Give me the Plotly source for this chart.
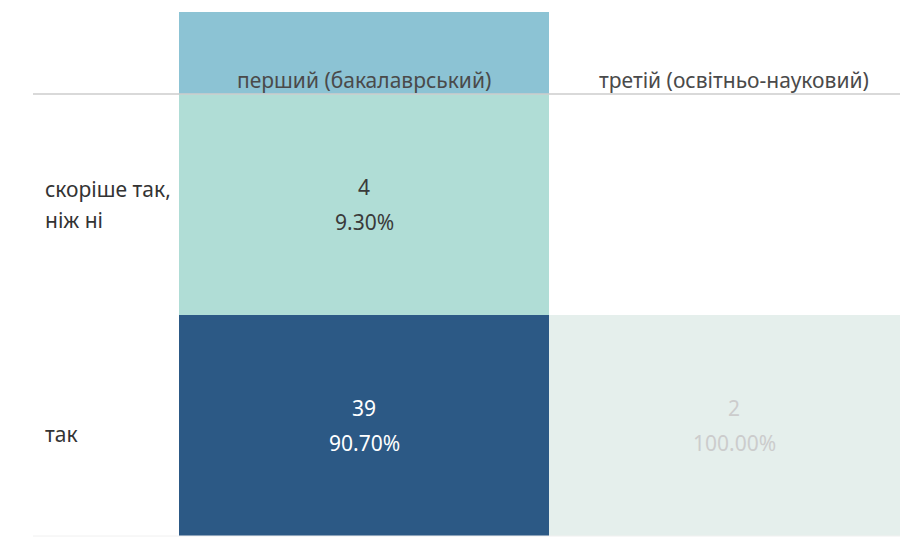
import plotly.graph_objects as go

columns = ["перший (бакалаврський)", "третій (освітньо-науковий)"]
rows = ["так", "скоріше так, ніж ні"]          # bottom to top
row_label_lines = [["так"], ["скоріше так,", "ніж ні"]]
counts = [[39, 2], [4, None]]
percents = [["90.70%", "100.00%"], ["9.30%", None]]

W, H = 908, 537
OFF = 8                      # page body margin
L, T = 179 - OFF, 94 - OFF
R, B = 0, H - (536 - OFF)
col_w = 370
plot_w = W - L - R
plot_h = H - T - B
x_hi = -0.5 + plot_w / col_w

colorscale = [[0.0, "#e5efec"], [(4 - 2) / 37, "#b0ddd6"], [1.0, "#2c5985"]]

fig = go.Figure(go.Heatmap(
    x=[0, 1], y=[0, 1], z=counts,
    colorscale=colorscale, zmin=2, zmax=39,
    showscale=False, hoverinfo="skip", xgap=0, ygap=0,
))

font = "Noto Sans"
fs = 21
text_colors = [["#ffffff", "#cccccc"], ["#3a3a3a", None]]
for ri in range(len(rows)):
    for ci in range(len(columns)):
        if counts[ri][ci] is None:
            continue
        for txt, dy in ((str(counts[ri][ci]), 18), (percents[ri][ci], -17)):
            fig.add_annotation(x=ci, y=ri, xref="x", yref="y", text=txt,
                               showarrow=False, yshift=dy,
                               font=dict(family=font, size=fs, color=text_colors[ri][ci]))

# row labels
label_shifts = [[-8], [15.5, -15.5]]
for ri, lines in enumerate(row_label_lines):
    for k, line in enumerate(lines):
        fig.add_annotation(x=-136 / plot_w, y=ri, xref="paper", yref="y",
                           text=line, showarrow=False, xanchor="left",
                           yshift=label_shifts[ri][k],
                           font=dict(family=font, size=fs, color="#333333"))

# header highlight for first column
fig.add_shape(type="rect", xref="x", yref="paper", x0=-0.5, x1=0.5,
              y0=1, y1=1 + 82 / plot_h, fillcolor="#8cc3d4", line_width=0, layer="below")
for ci, c in enumerate(columns):
    fig.add_annotation(x=ci, y=1, xref="x", yref="paper", text=c, showarrow=False,
                       yanchor="bottom", yshift=-2,
                       font=dict(family=font, size=fs, color="#4a4a4a"))

# header divider line
fig.add_shape(type="line", xref="paper", yref="paper", x0=-146 / plot_w, x1=1.0,
              y0=1, y1=1, line=dict(color="#cccccc", width=1.5))
fig.add_shape(type="line", xref="paper", yref="paper", x0=-146 / plot_w, x1=1.0,
              y0=0, y1=0, line=dict(color="#f0f0f0", width=1))

fig.update_layout(
    width=W, height=H,
    margin=dict(l=L, r=R, t=T, b=B, pad=0),
    plot_bgcolor="white", paper_bgcolor="white",
    xaxis=dict(range=[-0.5, x_hi], visible=False, fixedrange=True),
    yaxis=dict(range=[-0.5, 1.5], visible=False, fixedrange=True),
    showlegend=False,
)

fig.write_html("out.html")
